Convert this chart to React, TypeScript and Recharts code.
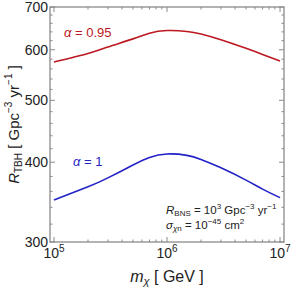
import React from "react";
import { LineChart, Line, XAxis, YAxis } from "recharts";

// m_chi in GeV
const mass = [1e5, 2e5, 3e5, 5e5, 7e5, 1e6, 1.5e6, 2e6, 3e6, 5e6, 7e6, 1e7];
// R_TBH for alpha = 0.95 and alpha = 1
const rateAlpha095 = [574, 592, 606, 624, 637, 643, 641, 635, 622, 603, 590, 576];
const rateAlpha1 = [349, 366, 378, 396, 407, 412, 410, 404, 392, 375, 363, 352];

const xMajor = [1e5, 1e6, 1e7];
const xMinor = [
	2e5, 3e5, 4e5, 5e5, 6e5, 7e5, 8e5, 9e5,
	2e6, 3e6, 4e6, 5e6, 6e6, 7e6, 8e6, 9e6,
];
const yMajor = [300, 400, 500, 600, 700];
const yMinor = [
	320, 340, 360, 380, 420, 440, 460, 480,
	520, 540, 560, 580, 620, 640, 660, 680,
];

const data = mass.map((m, i) => ({
	m,
	a095: rateAlpha095[i],
	a1: rateAlpha1[i],
}));

const W = 291;
const H = 287;
const LEFT = 50;
const RIGHT = 284;
const TOP = 7;
const BOTTOM = 242;
const FRAME = "#8a8a8a";
const FONT = "'Liberation Sans', Arial, sans-serif";
const RED = "#bc1820";
const BLUE = "#2222c8";

const YTick = (props: any) => {
	const { y, payload } = props;
	const major = yMajor.includes(payload.value);
	const len = major ? 5 : 2.5;
	return (
		<g>
			<line x1={LEFT} x2={LEFT + len} y1={y} y2={y} stroke={FRAME} />
			<line x1={RIGHT} x2={RIGHT - len} y1={y} y2={y} stroke={FRAME} />
			{major && (
				<text
					x={LEFT - 2}
					y={y}
					dy={5}
					textAnchor="end"
					fontSize={14}
					fill="#222"
					fontFamily={FONT}
				>
					{payload.value}
				</text>
			)}
		</g>
	);
};

const XTick = (props: any) => {
	const { x, payload } = props;
	const major = xMajor.includes(payload.value);
	const len = major ? 5 : 2.5;
	const exp = Math.round(Math.log10(payload.value));
	return (
		<g>
			<line x1={x} x2={x} y1={BOTTOM} y2={BOTTOM - len} stroke={FRAME} />
			<line x1={x} x2={x} y1={TOP} y2={TOP + len} stroke={FRAME} />
			{major && (
				<text
					x={x}
					y={BOTTOM + 16}
					textAnchor="middle"
					fontSize={14}
					fill="#222"
					fontFamily={FONT}
				>
					10
					<tspan fontSize={10} dy={-6}>
						{exp}
					</tspan>
				</text>
			)}
		</g>
	);
};

export default function App() {
	return (
		<div style={{ position: "absolute", left: 0, top: 0, background: "#fff" }}>
			<LineChart
				width={W}
				height={H}
				data={data}
				margin={{ top: TOP, right: W - RIGHT, bottom: 0, left: 0 }}
			>
				<XAxis
					dataKey="m"
					type="number"
					scale="log"
					domain={[10 ** 4.965, 10 ** 7.035]}
					allowDataOverflow
					ticks={[...xMajor, ...xMinor]}
					interval={0}
					tick={XTick}
					tickLine={false}
					axisLine={false}
					height={H - BOTTOM}
				/>
				<YAxis
					type="number"
					scale="log"
					domain={[300, 700]}
					allowDataOverflow
					ticks={[...yMajor, ...yMinor]}
					interval={0}
					tick={YTick}
					tickLine={false}
					axisLine={false}
					width={LEFT}
				/>
				<rect
					x={LEFT}
					y={TOP}
					width={RIGHT - LEFT}
					height={BOTTOM - TOP}
					fill="none"
					stroke={FRAME}
					strokeWidth={1.3}
				/>
				<Line
					type="natural"
					dataKey="a095"
					stroke={RED}
					strokeWidth={1.6}
					dot={false}
					isAnimationActive={false}
				/>
				<Line
					type="natural"
					dataKey="a1"
					stroke={BLUE}
					strokeWidth={1.6}
					dot={false}
					isAnimationActive={false}
				/>
				<g fontFamily={FONT} style={{ whiteSpace: "pre" }}>
					<text x={64} y={37} fontSize={13} fill={RED}>
						<tspan fontStyle="italic">α</tspan> = 0.95
					</text>
					<text x={73} y={166} fontSize={13} fill={BLUE}>
						<tspan fontStyle="italic">α</tspan> = 1
					</text>
					<text x={166} y={214} fontSize={11.5} fill="#222">
						<tspan fontStyle="italic">R</tspan>
						<tspan fontSize={8} dy={2}>BNS</tspan>
						<tspan dy={-2}> = 10</tspan>
						<tspan fontSize={8} dy={-5}>3</tspan>
						<tspan dy={5}> Gpc</tspan>
						<tspan fontSize={8} dy={-5}>−3</tspan>
						<tspan dy={5}> yr</tspan>
						<tspan fontSize={8} dy={-5}>−1</tspan>
					</text>
					<text x={166} y={229} fontSize={11.5} fill="#222">
						<tspan fontStyle="italic">σ</tspan>
						<tspan fontSize={8} dy={2} fontStyle="italic">χ</tspan>
						<tspan fontSize={8}>n</tspan>
						<tspan dy={-2}> = 10</tspan>
						<tspan fontSize={8} dy={-5}>−45</tspan>
						<tspan dy={5}> cm</tspan>
						<tspan fontSize={8} dy={-5}>2</tspan>
					</text>
					<text
						x={0}
						y={0}
						transform={`translate(19, ${(TOP + BOTTOM) / 2}) rotate(-90)`}
						textAnchor="middle"
						fontSize={15}
						fill="#222"
					>
						<tspan fontStyle="italic">R</tspan>
						<tspan fontSize={10} dy={3}>TBH</tspan>
						<tspan dy={-3}> [ Gpc</tspan>
						<tspan fontSize={10} dy={-7}>−3</tspan>
						<tspan dy={7}> yr</tspan>
						<tspan fontSize={10} dy={-7}>−1</tspan>
						<tspan dy={7}> ]</tspan>
					</text>
					<text
						x={(LEFT + RIGHT) / 2}
						y={282}
						textAnchor="middle"
						fontSize={16}
						fill="#222"
					>
						<tspan fontStyle="italic">m</tspan>
						<tspan fontSize={11} dy={3} fontStyle="italic">χ</tspan>
						<tspan dy={-3}> [ GeV ]</tspan>
					</text>
				</g>
			</LineChart>
		</div>
	);
}
